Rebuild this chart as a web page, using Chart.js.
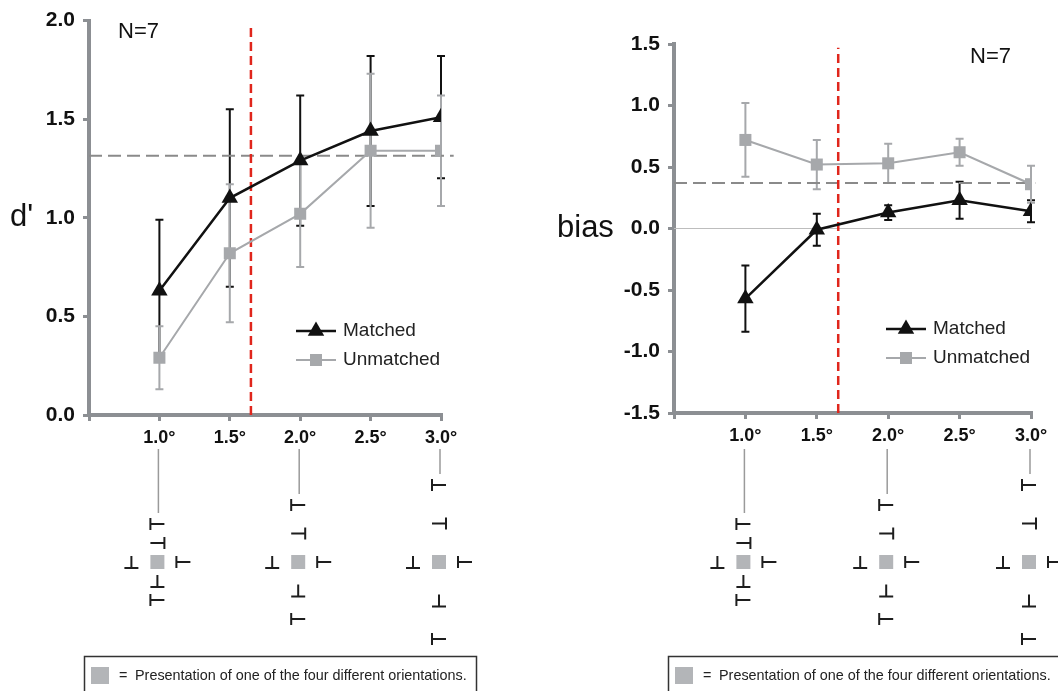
<!DOCTYPE html>
<html>
<head>
<meta charset="utf-8">
<script src="https://cdn.jsdelivr.net/npm/chart.js@4.4.1/dist/chart.umd.min.js"></script>
<style>
html, body { margin: 0; padding: 0; background: #fff; overflow: hidden; }
.panel { position: absolute; top: 0; width: 529px; height: 691px; }
#left { left: 0; }
#right { left: 529px; }
</style>
</head>
<body>
<div class="panel" id="left"><canvas id="chart-d" width="529" height="691"></canvas></div>
<div class="panel" id="right"><canvas id="chart-bias" width="529" height="691"></canvas></div>
<script>
// eccentricities (deg)
const eccentricity = [1.0, 1.5, 2.0, 2.5, 3.0]

// d' panel
const dMatched = [0.63, 1.10, 1.29, 1.44, 1.51]
const dMatchedErr = [0.36, 0.45, 0.33, 0.38, 0.31]
const dUnmatched = [0.29, 0.82, 1.02, 1.34, 1.34]
const dUnmatchedErr = [0.16, 0.35, 0.27, 0.39, 0.28]
const dCriterion = 1.315

// bias panel
const biasMatched = [-0.57, -0.01, 0.13, 0.23, 0.14]
const biasMatchedErr = [0.27, 0.13, 0.06, 0.15, 0.09]
const biasUnmatched = [0.72, 0.52, 0.53, 0.62, 0.36]
const biasUnmatchedErr = [0.30, 0.20, 0.16, 0.11, 0.15]
const biasCriterion = 0.37

const boundary = 1.65
const seriesNames = ['Matched', 'Unmatched']
const stimulusColumns = [1.0, 2.0, 3.0]
const stimulusSpacing = [19, 28.5, 38.5]
const noteText = 'Presentation of one of the four different orientations.'

const FONT = '"Liberation Sans", Arial, Helvetica, sans-serif'
const AXIS = '#8c8f93'
const BLACK = '#111111'
const GRAY = '#a6a8ab'
const RED = '#e0261c'
const DASH = '#8a8a8a'

Chart.defaults.font.family = FONT
Chart.defaults.color = BLACK

const drawT = (ctx, kind, cx, cy) => {
    const w = 7, h = 6
    ctx.beginPath()
    if (kind === 'R') {
        ctx.moveTo(cx - w, cy - h); ctx.lineTo(cx - w, cy + h)
        ctx.moveTo(cx - w, cy); ctx.lineTo(cx + w, cy)
    } else if (kind === 'L') {
        ctx.moveTo(cx + w, cy - h); ctx.lineTo(cx + w, cy + h)
        ctx.moveTo(cx + w, cy); ctx.lineTo(cx - w, cy)
    } else {
        ctx.moveTo(cx - w, cy + h); ctx.lineTo(cx + w, cy + h)
        ctx.moveTo(cx, cy + h); ctx.lineTo(cx, cy - h)
    }
    ctx.stroke()
}

const makeChart = (id, cfg) => {
    const errorBars = {
        id: 'errorBars',
        beforeDatasetsDraw(chart) {
            const { ctx, scales: { x, y } } = chart
            cfg.errors.forEach(s => {
                ctx.save()
                ctx.strokeStyle = s.color
                ctx.lineWidth = 2
                s.values.forEach((v, i) => {
                    const px = x.getPixelForValue(eccentricity[i])
                    const top = y.getPixelForValue(v + s.err[i])
                    const bottom = y.getPixelForValue(v - s.err[i])
                    ctx.beginPath()
                    ctx.moveTo(px, top); ctx.lineTo(px, bottom)
                    ctx.moveTo(px - 4, top); ctx.lineTo(px + 4, top)
                    ctx.moveTo(px - 4, bottom); ctx.lineTo(px + 4, bottom)
                    ctx.stroke()
                })
                ctx.restore()
            })
        }
    }

    const decorations = {
        id: 'decorations',
        afterDraw(chart) {
            const { ctx, chartArea, scales: { x } } = chart
            ctx.save()

            // axis title and N
            ctx.fillStyle = BLACK
            ctx.textBaseline = 'middle'
            ctx.textAlign = 'left'
            ctx.font = `31px ${FONT}`
            ctx.fillText(cfg.yTitle, cfg.yTitleX, chart.scales.y.getPixelForValue(cfg.yTitleAt))
            ctx.font = `22px ${FONT}`
            ctx.fillText('N=7', cfg.nX, cfg.nY)

            // legend
            const lx = chartArea.right - 145
            const ly = chartArea.bottom - 84
            chart.data.datasets.slice(0, 2).forEach((ds, i) => {
                const yy = ly + i * 29
                ctx.strokeStyle = ds.borderColor
                ctx.lineWidth = ds.borderWidth
                ctx.beginPath()
                ctx.moveTo(lx, yy); ctx.lineTo(lx + 40, yy)
                ctx.stroke()
                ctx.fillStyle = ds.pointBackgroundColor
                ctx.strokeStyle = ds.pointBackgroundColor
                Chart.helpers.drawPoint(ctx, { pointStyle: ds.pointStyle, radius: ds.pointRadius, rotation: 0, borderWidth: 0 }, lx + 20, yy)
                ctx.fillStyle = '#222'
                ctx.font = `19px ${FONT}`
                ctx.fillText(seriesNames[i], lx + 47, yy)
            })

            // stimulus layouts under 1.0, 2.0 and 3.0 deg
            const cy = 562
            stimulusColumns.forEach((c, i) => {
                const cx = x.getPixelForValue(c) - 2
                const s = stimulusSpacing[i]
                ctx.strokeStyle = '#9a9a9a'
                ctx.lineWidth = 1.5
                ctx.beginPath()
                ctx.moveTo(cx + 1, 449); ctx.lineTo(cx + 1, cy - 2 * s - 11)
                ctx.stroke()
                ctx.fillStyle = '#b3b5b8'
                ctx.fillRect(cx - 7, cy - 7, 14, 14)
                ctx.strokeStyle = '#1e1e1e'
                ctx.lineWidth = 2
                drawT(ctx, 'R', cx, cy - 2 * s)
                drawT(ctx, 'L', cx, cy - s)
                drawT(ctx, 'U', cx, cy + s)
                drawT(ctx, 'R', cx, cy + 2 * s)
                drawT(ctx, 'U', cx - 26, cy)
                drawT(ctx, 'R', cx + 26, cy)
            })

            // note box
            ctx.strokeStyle = '#333'
            ctx.lineWidth = 1.5
            ctx.strokeRect(cfg.boxX + 0.5, 656.5, 392, 60)
            ctx.fillStyle = '#b3b5b8'
            ctx.fillRect(cfg.boxX + 7, 667, 18, 17)
            ctx.fillStyle = '#222'
            ctx.font = `14.4px ${FONT}`
            ctx.fillText('=', cfg.boxX + 35, 676)
            ctx.fillText(noteText, cfg.boxX + 51, 676)

            ctx.restore()
        }
    }

    const refLine = (data, color, width, dash) => ({
        data, borderColor: color, borderWidth: width, borderDash: dash,
        pointRadius: 0, clip: false, fill: false
    })

    const datasets = [
        {
            data: cfg.matched.map((v, i) => ({ x: eccentricity[i], y: v })),
            borderColor: BLACK, borderWidth: 2.5,
            pointStyle: 'triangle', pointRadius: 9.5, pointBackgroundColor: BLACK, pointBorderWidth: 0
        },
        {
            data: cfg.unmatched.map((v, i) => ({ x: eccentricity[i], y: v })),
            borderColor: GRAY, borderWidth: 2,
            pointStyle: 'rect', pointRadius: 8.5, pointBackgroundColor: GRAY, pointBorderWidth: 0
        },
        refLine([{ x: boundary, y: cfg.yMin }, { x: boundary, y: cfg.redTop }], RED, 2.5, [9, 5]),
        refLine([{ x: 0.5, y: cfg.criterion }, { x: cfg.critEnd, y: cfg.criterion }], DASH, 2, [13, 6])
    ]
    if (cfg.zeroLine) datasets.push(refLine([{ x: 0.5, y: 0 }, { x: 3.0, y: 0 }], '#bdbdbd', 1, []))

    return new Chart(document.getElementById(id), {
        type: 'line',
        data: { datasets },
        options: {
            responsive: false,
            animation: false,
            layout: { padding: cfg.padding },
            plugins: { legend: { display: false }, tooltip: { enabled: false } },
            scales: {
                x: {
                    type: 'linear', min: 0.5, max: 3.0,
                    afterFit: s => { s.height = 40 },
                    border: { color: AXIS, width: 4 },
                    grid: { drawOnChartArea: false, color: AXIS, lineWidth: 3, tickLength: 6 },
                    ticks: {
                        stepSize: 0.5, padding: 6, color: BLACK,
                        font: { size: 18, weight: 'bold' },
                        callback: v => v < 0.75 ? '' : v.toFixed(1) + '°'
                    }
                },
                y: {
                    min: cfg.yMin, max: cfg.yMax,
                    afterFit: s => { s.width = cfg.yWidth },
                    border: { color: AXIS, width: 4 },
                    grid: { drawOnChartArea: false, color: AXIS, lineWidth: 3, tickLength: 6 },
                    ticks: {
                        stepSize: 0.5, padding: 8, color: BLACK,
                        font: { size: 21, weight: 'bold' },
                        callback: v => v.toFixed(1)
                    }
                }
            }
        },
        plugins: [errorBars, decorations]
    })
}

makeChart('chart-d', {
    matched: dMatched, unmatched: dUnmatched,
    errors: [{ values: dMatched, err: dMatchedErr, color: BLACK }, { values: dUnmatched, err: dUnmatchedErr, color: GRAY }],
    criterion: dCriterion, critEnd: 3.09,
    yMin: 0, yMax: 2.0, redTop: 1.97,
    yWidth: 89, padding: { left: 0, right: 88, top: 16, bottom: 236 },
    yTitle: "d'", yTitleX: 10, yTitleAt: 1.0,
    nX: 118, nY: 32, boxX: 84, zeroLine: false
})

makeChart('chart-bias', {
    matched: biasMatched, unmatched: biasUnmatched,
    errors: [{ values: biasMatched, err: biasMatchedErr, color: BLACK }, { values: biasUnmatched, err: biasUnmatchedErr, color: GRAY }],
    criterion: biasCriterion, critEnd: 3.03,
    yMin: -1.5, yMax: 1.5, redTop: 1.47,
    yWidth: 145, padding: { left: 0, right: 27, top: 44, bottom: 238 },
    yTitle: 'bias', yTitleX: 28, yTitleAt: 0,
    nX: 441, nY: 57, boxX: 139, zeroLine: true
})
</script>
</body>
</html>
